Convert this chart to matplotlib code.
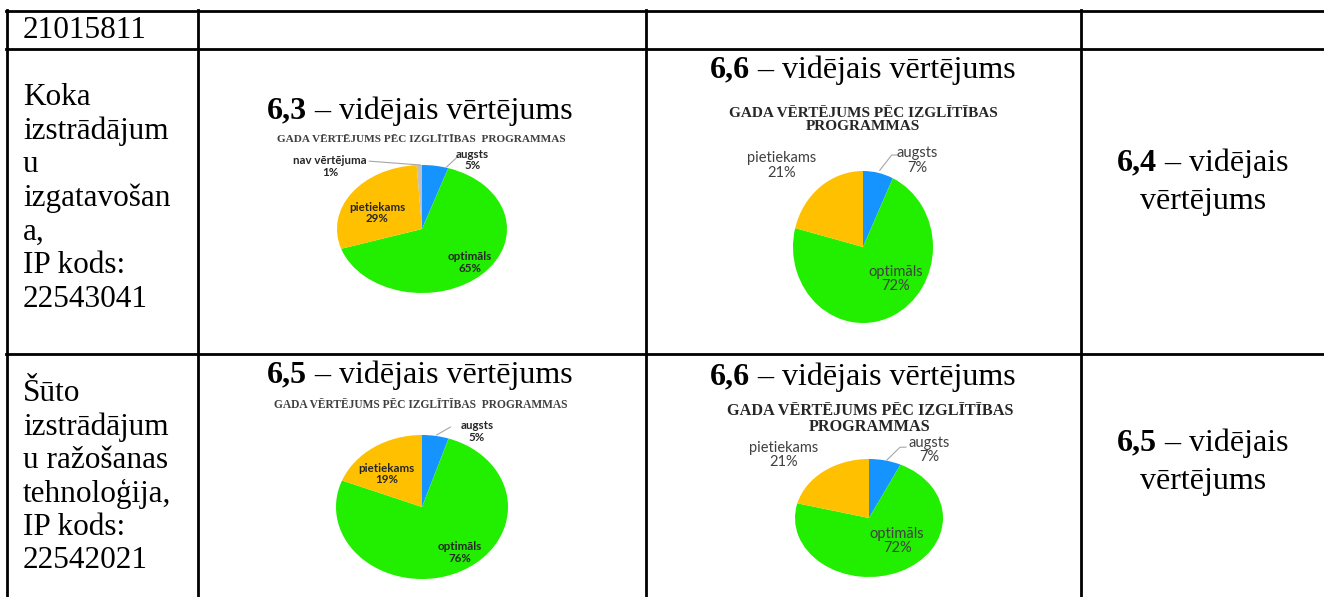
import matplotlib
matplotlib.use("Agg")
import matplotlib.pyplot as plt
from matplotlib.offsetbox import TextArea, HPacker, AnnotationBbox

# data
grades = ["augsts", "optimāls", "pietiekams", "nav vērtējuma"]
pie_koka_1 = [5, 65, 29, 1]
pie_koka_2 = [7, 72, 21]
pie_suto_1 = [5, 76, 19]
pie_suto_2 = [7, 72, 21]
avg_titles = ["6,3", "6,6", "6,5", "6,6"]
avg_side = ["6,4", "6,5"]
row_texts = ["21015811",
             "Koka\nizstrādājum\nu\nizgatavošan\na,\nIP kods:\n22543041",
             "Šūto\nizstrādājum\nu ražošanas\ntehnoloģija,\nIP kods:\n22542021"]
colors = ["#1593FF", "#22EE00", "#FFC000", "#BFBFBF"]

W, H = 1324, 597
SERIF = "Liberation Serif"
SANS = "Lato"

fig = plt.figure(figsize=(W / 100, H / 100), dpi=100)
ax = fig.add_axes([0, 0, 1, 1])
ax.set_xlim(0, W)
ax.set_ylim(H, 0)
ax.axis("off")

# table grid
for y in [11, 49, 354]:
    ax.plot([6, W], [y, y], color="black", lw=2)
for x in [7, 198, 646, 1081]:
    ax.plot([x, x], [10, H], color="black", lw=2)

# left column
ax.text(23, 30, row_texts[0], fontsize=22.5, family=SERIF, va="center")
ax.text(23, 83, row_texts[1], fontsize=22.5, family=SERIF, va="top", linespacing=1.2)
ax.text(23, 379, row_texts[2], fontsize=22.5, family=SERIF, va="top", linespacing=1.18)


def avg_line(x, y, num, size, full):
    box = HPacker(children=[
        TextArea(num, textprops=dict(fontsize=size, family=SERIF, weight="bold")),
        TextArea(" – vidējais" + (" vērtējums" if full else ""),
                 textprops=dict(fontsize=size, family=SERIF))],
        pad=0, sep=0, align="baseline")
    ab = AnnotationBbox(box, (x, y), xycoords="data", frameon=False,
                        box_alignment=(0.5, 0.5), pad=0)
    ax.add_artist(ab)


# right column
for (y, num) in zip([163, 443], avg_side):
    avg_line(1203, y, num, 23, False)
    ax.text(1203, y + 39, "vērtējums", fontsize=23, family=SERIF,
            ha="center", va="center")


def draw_pie(vals, cx, cy, rx, ry, label_pos, leaders, bold, lsize):
    pa = fig.add_axes([(cx - rx) / W, (H - cy - ry) / H, 2 * rx / W, 2 * ry / H])
    pa.pie(vals, colors=colors[:len(vals)], startangle=90, counterclock=False,
           radius=1, wedgeprops=dict(linewidth=0))
    pa.set_xlim(-1, 1)
    pa.set_ylim(-1, 1)
    pa.set_aspect("auto")
    pa.axis("off")
    total = sum(vals)
    for name, v, (lx, ly) in zip(grades, vals, label_pos):
        pa.text(lx, ly, f"{name}\n{round(100 * v / total)}%", ha="center",
                va="center", fontsize=lsize, family=SANS,
                weight="bold" if bold else "normal",
                color="#262626" if bold else "#404040",
                linespacing=1.05, clip_on=False)
    for pts in leaders:
        xs, ys = zip(*pts)
        pa.plot(xs, ys, color="#A6A6A6", lw=0.8, clip_on=False)


# Koka row
avg_line(420, 111, avg_titles[0], 23, True)
ax.text(421, 139, "GADA VĒRTĒJUMS PĒC IZGLĪTĪBAS  PROGRAMMAS", fontsize=8.1,
        family=SERIF, weight="bold", ha="center", va="center", color="#404040")
draw_pie(pie_koka_1, 422, 229, 85, 64,
         [(0.59, 1.08), (0.56, -0.52), (-0.53, 0.25), (-1.08, 0.98)],
         [[(0.29, 0.97), (0.42, 1.13)], [(-0.62, 1.06), (-0.02, 1.0)]],
         True, 8.3)

avg_line(863, 70, avg_titles[1], 23, True)
ax.text(863, 120, "GADA VĒRTĒJUMS PĒC IZGLĪTĪBAS\nPROGRAMMAS", fontsize=11,
        family=SERIF, weight="bold", ha="center", va="center", color="#262626",
        linespacing=0.95)
draw_pie(pie_koka_2, 863, 247, 70, 76,
         [(0.77, 1.14), (0.46, -0.42), (-1.16, 1.07)],
         [[(0.24, 1.01), (0.41, 1.21), (0.5, 1.21)]],
         False, 10.5)

# Suto row
avg_line(420, 375, avg_titles[2], 23, True)
ax.text(421, 405, "GADA VĒRTĒJUMS PĒC IZGLĪTĪBAS  PROGRAMMAS", fontsize=8.3,
        family=SERIF, weight="bold", ha="center", va="center", color="#404040")
draw_pie(pie_suto_1, 422, 507, 86, 72,
         [(0.64, 1.05), (0.44, -0.63), (-0.41, 0.46)],
         [[(0.17, 1.0), (0.33, 1.11)]],
         True, 8.3)

avg_line(863, 377, avg_titles[3], 23, True)
ax.text(870, 419, "GADA VĒRTĒJUMS PĒC IZGLĪTĪBAS\nPROGRAMMAS", fontsize=11.7,
        family=SERIF, weight="bold", ha="center", va="center", color="#262626",
        linespacing=0.92)
draw_pie(pie_suto_2, 869, 518, 74, 59,
         [(0.82, 1.15), (0.38, -0.39), (-1.16, 1.07)],
         [[(0.24, 0.98), (0.42, 1.2), (0.5, 1.2)]],
         False, 10.5)

fig.savefig("out.png", dpi=100)
